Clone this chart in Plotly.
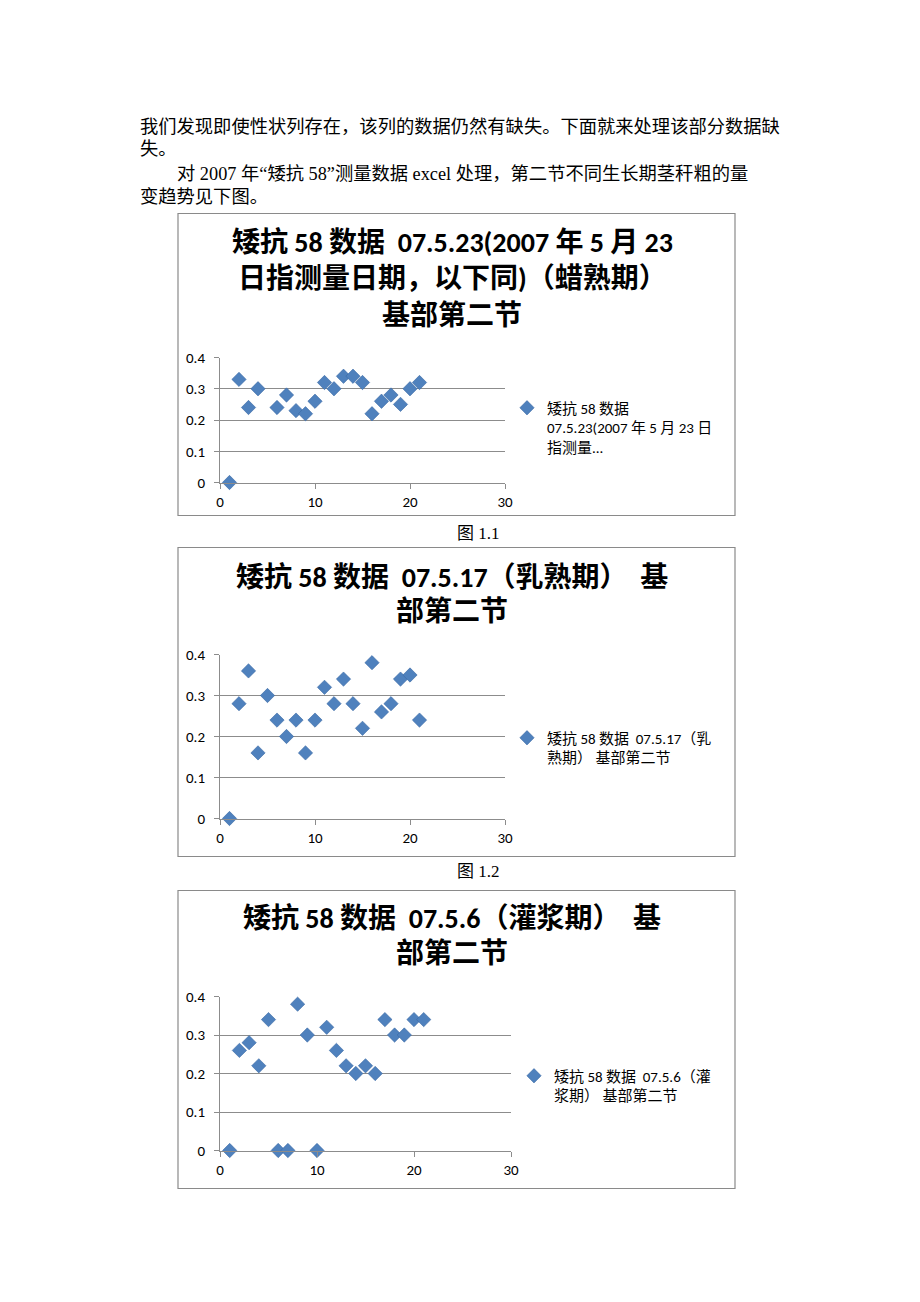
import plotly.graph_objects as go

W, H = 920, 1302

# ---------------- data ----------------
plants = list(range(1, 22))
wax_0523 = [0, 0.33, 0.24, 0.30, None, 0.24, 0.28, 0.23, 0.22, 0.26, 0.32,
            0.30, 0.34, 0.34, 0.32, 0.22, 0.26, 0.28, 0.25, 0.30, 0.32]
milk_0517 = [0, 0.28, 0.36, 0.16, 0.30, 0.24, 0.20, 0.24, 0.16, 0.24, 0.32,
             0.28, 0.34, 0.28, 0.22, 0.38, 0.26, 0.28, 0.34, 0.35, 0.24]
fill_0506 = [0, 0.26, 0.28, 0.22, 0.34, 0, 0, 0.38, 0.30, 0, 0.32,
             0.26, 0.22, 0.20, 0.22, 0.20, 0.34, 0.30, 0.30, 0.34, 0.34]

x_ticks = [0, 10, 20, 30]
y_ticks = [0, 0.1, 0.2, 0.3, 0.4]
y_tick_text = ["0", "0.1", "0.2", "0.3", "0.4"]

legend_names = [
    "矮抗 58 数据<br>07.5.23(2007 年 5 月 23 日<br>指测量...",
    "矮抗 58 数据  07.5.17（乳<br>熟期） 基部第二节",
    "矮抗 58 数据  07.5.6（灌<br>浆期） 基部第二节",
]
titles = [
    ["矮抗 58 数据  07.5.23(2007 年 5 月 23", "日指测量日期，以下同)（蜡熟期）", "基部第二节"],
    ["矮抗 58 数据  07.5.17（乳熟期）  基", "部第二节"],
    ["矮抗 58 数据  07.5.6（灌浆期）  基", "部第二节"],
]
captions = ["图 1.1", "图 1.2"]
body_lines = [
    "我们发现即使性状列存在，该列的数据仍然有缺失。下面就来处理该部分数据缺",
    "失。",
    "对 2007 年“矮抗 58”测量数据 excel 处理，第二节不同生长期茎秆粗的量",
    "变趋势见下图。",
]

# ---------------- layout helpers ----------------
DX, DY = 8, 7.5  # page body margin compensation

def px(x):
    return (x - DX) / W

def py(y):
    return 1 - (y - DY) / H

BLUE = "#4F81BD"
GRID = "#8C8C8C"
CJK = "Calibri, 'Noto Sans CJK SC', sans-serif"
SERIF = "'Liberation Serif', 'Noto Sans CJK SC', serif"

fig = go.Figure()

series = [wax_0523, milk_0517, fill_0506]
plot_boxes = [  # (x0, x1, ytop, ybottom) in pixels
    (220, 505, 357, 482),
    (220, 505, 654, 818),
    (220, 511, 996, 1150),
]
frames = [(178, 213, 735, 515), (178, 547, 735, 856), (178, 890, 735, 1188)]
legend_pos = [(507, 391), (507, 721), (514, 1059)]
title_rows = [[242, 278, 315], [577, 611], [918, 953]]

for i, ys in enumerate(series):
    n = "" if i == 0 else str(i + 1)
    fig.add_trace(go.Scatter(
        x=plants, y=ys, mode="markers", name=legend_names[i],
        marker=dict(symbol="diamond", size=11, color=BLUE,
                    line=dict(width=0.6, color="#3A6AA5")),
        xaxis="x" + n, yaxis="y" + n, legend="legend" + n,
        showlegend=True, cliponaxis=False,
    ))
    x0, x1, yt, yb = plot_boxes[i]
    ax = dict(domain=[px(x0), px(x1)], range=[0, 30], tickvals=x_ticks,
              showgrid=False, zeroline=False, showline=True, linecolor=GRID,
              linewidth=1, ticks="outside", ticklen=5, tickcolor=GRID,
              tickfont=dict(family=CJK, size=15, color="#000"),
              anchor="y" + n, fixedrange=True, automargin=False)
    ay = dict(domain=[py(yb), py(yt)], range=[0, 0.4], tickvals=y_ticks,
              ticktext=y_tick_text,
              showgrid=True, gridcolor=GRID, gridwidth=1, zeroline=False,
              showline=True, linecolor=GRID, linewidth=1, ticks="outside",
              ticklen=5, tickcolor=GRID, ticklabelstandoff=6,
              tickfont=dict(family=CJK, size=15, color="#000"),
              anchor="x" + n, fixedrange=True, automargin=False)
    fig.update_layout(**{"xaxis" + n: ax, "yaxis" + n: ay})
    lx, ly = legend_pos[i]
    fig.update_layout(**{"legend" + n: dict(
        x=px(lx), y=py(ly), xanchor="left", yanchor="top",
        font=dict(family=CJK, size=15, color="#000"),
        bgcolor="rgba(0,0,0,0)", valign="top", itemclick=False,
        itemdoubleclick=False)})
    fx0, fy0, fx1, fy1 = frames[i]
    fig.add_shape(type="rect", xref="paper", yref="paper",
                  x0=px(fx0), x1=px(fx1), y0=py(fy1), y1=py(fy0),
                  line=dict(color="#8A8A8A", width=1.2), layer="below")
    for j, t in enumerate(titles[i]):
        fig.add_annotation(text="<b>" + t + "</b>", xref="paper", yref="paper",
                           x=px(452), y=py(title_rows[i][j]), xanchor="center",
                           yanchor="middle", showarrow=False,
                           font=dict(family=CJK, size=28, color="#000"))

for c, yy in zip(captions, [533, 871]):
    fig.add_annotation(text=c, xref="paper", yref="paper", x=px(478), y=py(yy),
                       xanchor="center", yanchor="middle", showarrow=False,
                       font=dict(family=SERIF, size=17, color="#000"))

body_pos = [(138, 127), (138, 149), (175, 173), (138, 197)]
for t, (bx, by) in zip(body_lines, body_pos):
    fig.add_annotation(text=t, xref="paper", yref="paper", x=px(bx), y=py(by),
                       xanchor="left", yanchor="middle", showarrow=False,
                       font=dict(family=SERIF, size=18.3, color="#000"))

fig.update_layout(width=W, height=H, autosize=False,
                  margin=dict(l=0, r=0, t=0, b=0, pad=0, autoexpand=False),
                  paper_bgcolor="white", plot_bgcolor="white")

fig.write_html("out.html")
